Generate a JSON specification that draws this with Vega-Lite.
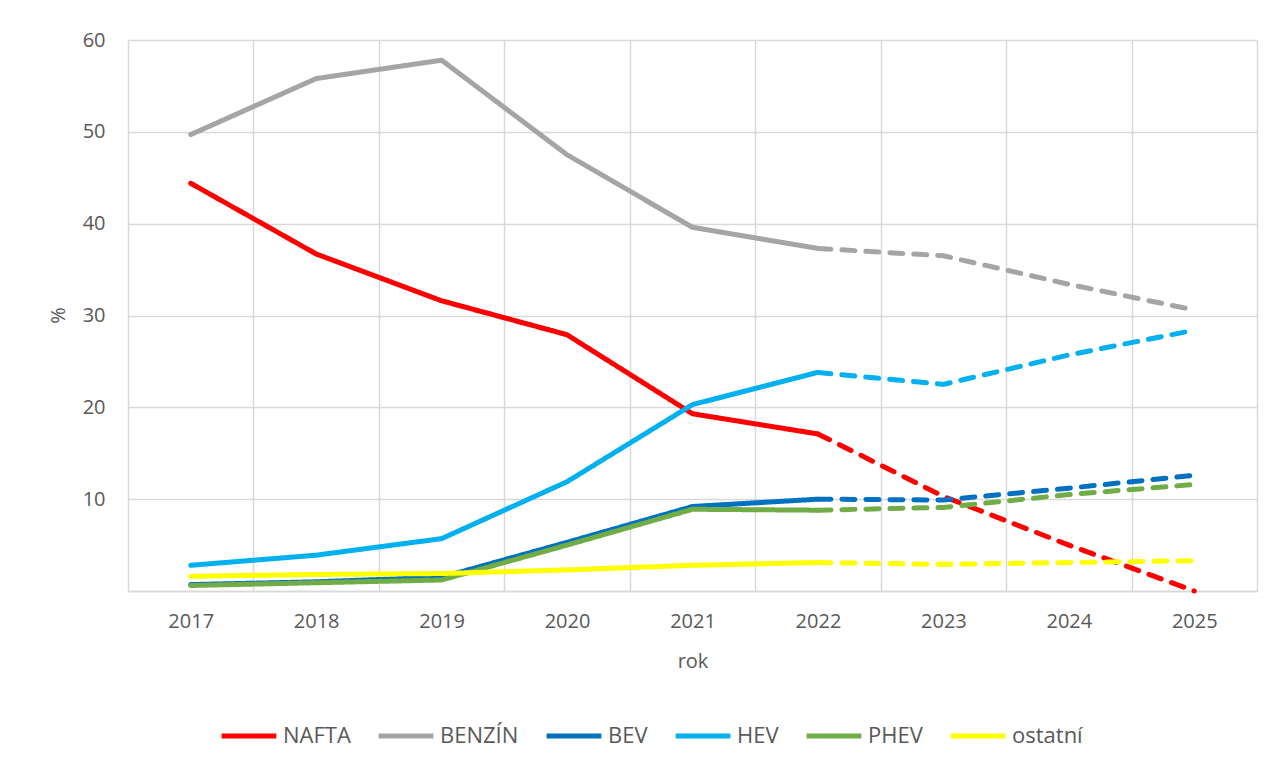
{
  "$schema": "https://vega.github.io/schema/vega-lite/v6.json",
  "width": 1129,
  "height": 551,
  "autosize": {"type": "none"},
  "padding": {"left": 128, "top": 40, "right": 30, "bottom": 178},
  "background": "white",
  "config": {
    "view": {"stroke": null},
    "font": "Open Sans",
    "axis": {"labelColor": "#595959", "titleColor": "#595959", "labelFontSize": 20, "titleFontSize": 20, "titleFontWeight": "normal", "gridColor": "#d9d9d9", "gridWidth": 1.5}
  },
  "data": {
    "values": [
      {"rok": "2017", "typ": "NAFTA", "seg": "solid", "v": 44.4},
      {"rok": "2018", "typ": "NAFTA", "seg": "solid", "v": 36.7},
      {"rok": "2019", "typ": "NAFTA", "seg": "solid", "v": 31.6},
      {"rok": "2020", "typ": "NAFTA", "seg": "solid", "v": 27.9},
      {"rok": "2021", "typ": "NAFTA", "seg": "solid", "v": 19.3},
      {"rok": "2022", "typ": "NAFTA", "seg": "solid", "v": 17.1},
      {"rok": "2022", "typ": "NAFTA", "seg": "dashed", "v": 17.1},
      {"rok": "2023", "typ": "NAFTA", "seg": "dashed", "v": 10.3},
      {"rok": "2024", "typ": "NAFTA", "seg": "dashed", "v": 5.0},
      {"rok": "2025", "typ": "NAFTA", "seg": "dashed", "v": 0.0},
      {"rok": "2017", "typ": "BENZÍN", "seg": "solid", "v": 49.7},
      {"rok": "2018", "typ": "BENZÍN", "seg": "solid", "v": 55.8},
      {"rok": "2019", "typ": "BENZÍN", "seg": "solid", "v": 57.8},
      {"rok": "2020", "typ": "BENZÍN", "seg": "solid", "v": 47.5},
      {"rok": "2021", "typ": "BENZÍN", "seg": "solid", "v": 39.6},
      {"rok": "2022", "typ": "BENZÍN", "seg": "solid", "v": 37.3},
      {"rok": "2022", "typ": "BENZÍN", "seg": "dashed", "v": 37.3},
      {"rok": "2023", "typ": "BENZÍN", "seg": "dashed", "v": 36.5},
      {"rok": "2024", "typ": "BENZÍN", "seg": "dashed", "v": 33.4},
      {"rok": "2025", "typ": "BENZÍN", "seg": "dashed", "v": 30.6},
      {"rok": "2017", "typ": "BEV", "seg": "solid", "v": 0.7},
      {"rok": "2018", "typ": "BEV", "seg": "solid", "v": 1.0},
      {"rok": "2019", "typ": "BEV", "seg": "solid", "v": 1.5},
      {"rok": "2020", "typ": "BEV", "seg": "solid", "v": 5.3},
      {"rok": "2021", "typ": "BEV", "seg": "solid", "v": 9.2},
      {"rok": "2022", "typ": "BEV", "seg": "solid", "v": 10.0},
      {"rok": "2022", "typ": "BEV", "seg": "dashed", "v": 10.0},
      {"rok": "2023", "typ": "BEV", "seg": "dashed", "v": 9.9},
      {"rok": "2024", "typ": "BEV", "seg": "dashed", "v": 11.2},
      {"rok": "2025", "typ": "BEV", "seg": "dashed", "v": 12.6},
      {"rok": "2017", "typ": "HEV", "seg": "solid", "v": 2.8},
      {"rok": "2018", "typ": "HEV", "seg": "solid", "v": 3.9},
      {"rok": "2019", "typ": "HEV", "seg": "solid", "v": 5.7},
      {"rok": "2020", "typ": "HEV", "seg": "solid", "v": 11.9},
      {"rok": "2021", "typ": "HEV", "seg": "solid", "v": 20.3},
      {"rok": "2022", "typ": "HEV", "seg": "solid", "v": 23.8},
      {"rok": "2022", "typ": "HEV", "seg": "dashed", "v": 23.8},
      {"rok": "2023", "typ": "HEV", "seg": "dashed", "v": 22.5},
      {"rok": "2024", "typ": "HEV", "seg": "dashed", "v": 25.7},
      {"rok": "2025", "typ": "HEV", "seg": "dashed", "v": 28.4},
      {"rok": "2017", "typ": "PHEV", "seg": "solid", "v": 0.6},
      {"rok": "2018", "typ": "PHEV", "seg": "solid", "v": 0.9},
      {"rok": "2019", "typ": "PHEV", "seg": "solid", "v": 1.2},
      {"rok": "2020", "typ": "PHEV", "seg": "solid", "v": 5.0},
      {"rok": "2021", "typ": "PHEV", "seg": "solid", "v": 8.9},
      {"rok": "2022", "typ": "PHEV", "seg": "solid", "v": 8.8},
      {"rok": "2022", "typ": "PHEV", "seg": "dashed", "v": 8.8},
      {"rok": "2023", "typ": "PHEV", "seg": "dashed", "v": 9.1},
      {"rok": "2024", "typ": "PHEV", "seg": "dashed", "v": 10.5},
      {"rok": "2025", "typ": "PHEV", "seg": "dashed", "v": 11.6},
      {"rok": "2017", "typ": "ostatní", "seg": "solid", "v": 1.6},
      {"rok": "2018", "typ": "ostatní", "seg": "solid", "v": 1.8},
      {"rok": "2019", "typ": "ostatní", "seg": "solid", "v": 1.9},
      {"rok": "2020", "typ": "ostatní", "seg": "solid", "v": 2.3},
      {"rok": "2021", "typ": "ostatní", "seg": "solid", "v": 2.8},
      {"rok": "2022", "typ": "ostatní", "seg": "solid", "v": 3.1},
      {"rok": "2022", "typ": "ostatní", "seg": "dashed", "v": 3.1},
      {"rok": "2023", "typ": "ostatní", "seg": "dashed", "v": 2.9},
      {"rok": "2024", "typ": "ostatní", "seg": "dashed", "v": 3.1},
      {"rok": "2025", "typ": "ostatní", "seg": "dashed", "v": 3.3}
    ]
  },
  "mark": {"type": "line", "strokeWidth": 5, "strokeCap": "round", "strokeJoin": "round"},
  "encoding": {
    "x": {
      "field": "rok", "type": "ordinal", "bandPosition": 0.5,
      "scale": {"type": "band", "paddingInner": 0, "paddingOuter": 0},
      "axis": {"title": "rok", "labelAngle": 0, "ticks": false, "grid": true, "tickBand": "extent", "domainColor": "#d9d9d9", "domainWidth": 1.5, "labelPadding": 20, "titlePadding": 20}
    },
    "y": {
      "field": "v", "type": "quantitative",
      "scale": {"domain": [0, 60], "nice": false},
      "axis": {"title": "%", "values": [0, 10, 20, 30, 40, 50, 60], "labelExpr": "datum.value == 0 ? '' : datum.label", "domain": false, "ticks": false, "labelPadding": 23, "titleX": -70, "titleY": 275, "titleAngle": 270, "titleAlign": "center", "titleBaseline": "middle"}
    },
    "color": {
      "field": "typ", "type": "nominal",
      "scale": {"domain": ["NAFTA", "BENZÍN", "BEV", "HEV", "PHEV", "ostatní"], "range": ["#ff0000", "#a5a5a5", "#0070c0", "#00b0f0", "#70ad47", "#ffff00"]},
      "legend": {"title": null, "orient": "none", "direction": "horizontal", "legendX": 91, "legendY": 666, "symbolType": "stroke", "symbolSize": 3000, "symbolStrokeWidth": 5, "labelFontSize": 22, "labelColor": "#595959", "labelOffset": 4, "columnPadding": 17, "labelFont": "Open Sans"}
    },
    "strokeDash": {
      "field": "seg", "type": "nominal",
      "scale": {"domain": ["solid", "dashed"], "range": [[1, 0], [13, 11]]},
      "legend": null
    },
    "detail": {"field": "seg"}
  }
}
